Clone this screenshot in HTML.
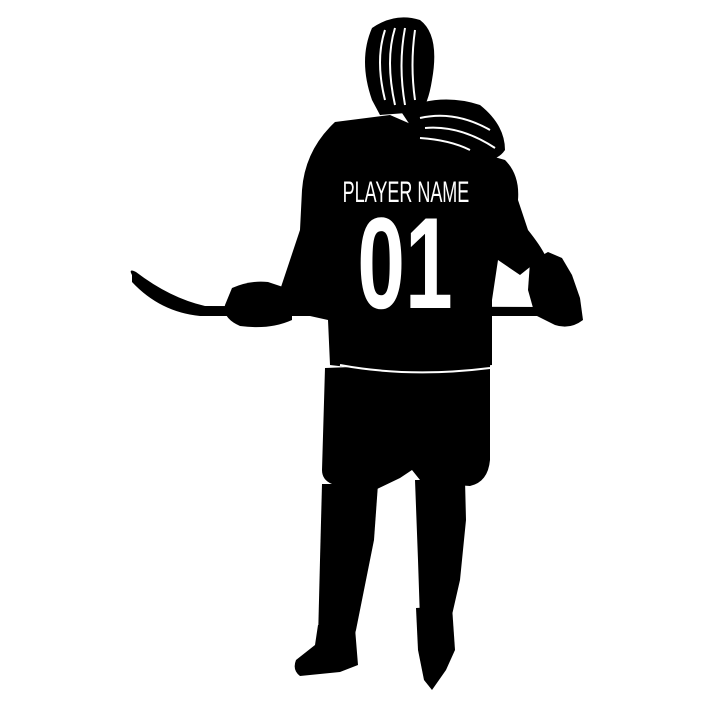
<!DOCTYPE html>
<html><head><meta charset="utf-8"><style>
html,body{margin:0;padding:0;background:#fff;width:713px;height:716px;overflow:hidden}
svg{display:block}
</style></head><body>
<svg width="713" height="716" viewBox="0 0 713 716" xmlns="http://www.w3.org/2000/svg">
<g fill="#000">
<path d="M132 275 Q128 268 136 272 Q170 298 205 306 L545 307 L545 316 L200 316 Q160 312 132 282 Z"/>
<path d="M372 100 Q358 60 372 28 Q395 12 420 20 Q440 35 432 80 Q428 105 420 112 L380 115 Z"/>
<path d="M400 110 Q440 92 480 105 Q505 125 505 150 Q495 165 470 158 Q440 150 420 140 Z"/>
<path d="M335 122 L390 115 L420 128 L470 150 L505 160 Q520 175 518 200 L528 230 Q540 245 545 255 L520 275 L498 260 L492 300 L492 365 Q410 375 330 365 L328 320 L292 312 L280 290 L300 230 L302 190 Q305 150 335 122 Z"/>
<path d="M232 288 Q250 280 268 282 L292 290 L292 320 Q270 330 240 326 Q222 318 225 305 Z"/>
<path d="M530 262 L548 252 L562 258 L572 275 L580 298 L583 320 Q570 330 555 325 L535 315 L528 290 Z"/>
<path d="M325 368 L490 362 L490 460 Q488 482 470 486 L440 484 L420 480 L412 470 L400 478 L375 490 L332 484 Q322 480 322 470 Z"/>
<path d="M322 484 L378 484 L374 540 L362 600 L356 630 L350 652 L330 655 L318 640 L320 560 Z"/>
<path d="M318 625 L355 628 L358 665 L340 672 L300 676 Q292 670 296 660 L315 645 Z"/>
<path d="M415 480 L465 480 L466 520 L460 580 L452 615 L420 620 L418 560 Z"/>
<path d="M416 608 L452 606 L455 650 L446 670 L432 690 L424 680 L418 650 Z"/>
</g>
<g fill="none" stroke="#fff" stroke-width="2">
<path d="M385 30 Q375 60 385 100"/><path d="M395 28 Q385 60 395 105"/><path d="M405 28 Q398 65 405 105"/><path d="M415 30 Q410 65 415 100"/>
<path d="M420 118 Q455 110 490 130"/><path d="M425 128 Q460 125 495 148"/><path d="M420 138 Q450 140 470 150"/>
<path d="M340 365 Q410 378 490 368"/>
</g>
<g fill="#fff" font-family="'Liberation Sans',sans-serif" font-weight="bold">
<text x="406" y="202" font-size="30" text-anchor="middle" transform="translate(406 0) scale(0.6 1) translate(-406 0)" font-weight="normal">PLAYER NAME</text>
<text x="405" y="308" font-size="130" text-anchor="middle" transform="translate(405 0) scale(0.66 1) translate(-405 0)">01</text>
</g>
</svg>
</body></html>
